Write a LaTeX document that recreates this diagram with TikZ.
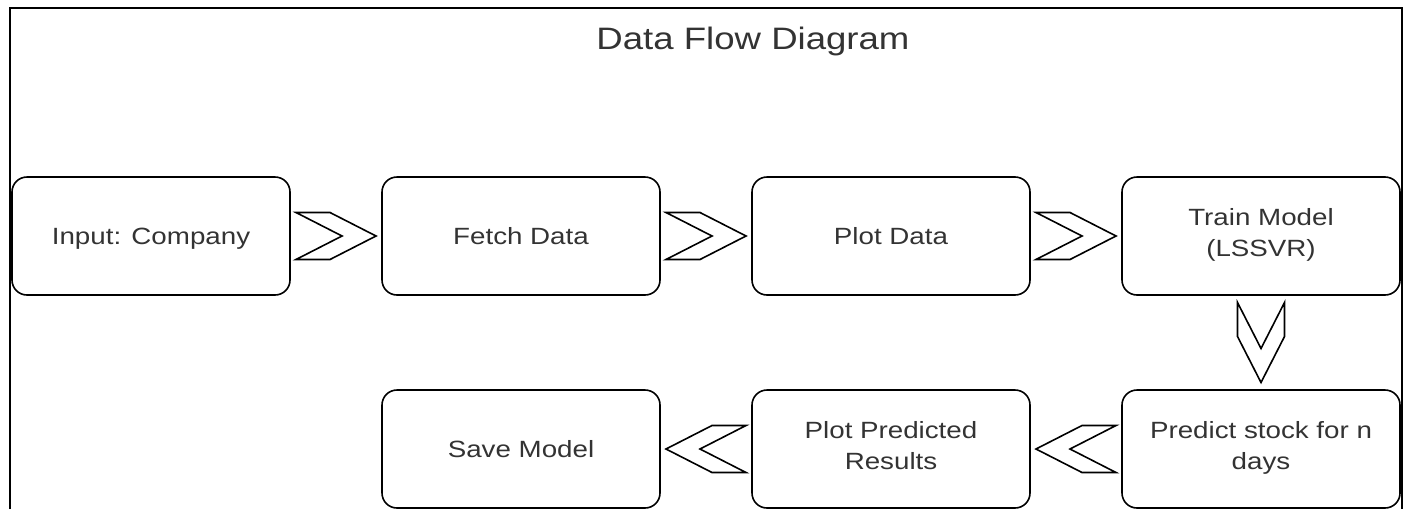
\documentclass[tikz,border=0pt]{standalone}
\usepackage{fontspec}
\setmainfont[FakeStretch=1.18]{Liberation Sans}
\usetikzlibrary{calc}
\newcommand\boxstrut{\rule[-7pt]{0pt}{31pt}}

\begin{document}
\begin{tikzpicture}[
        x=1pt, y=-1pt,        % Pixel-like units, y running downwards
        node distance=370pt,  % Distance between the nodes
        box/.style={draw, line width=1.6pt, rounded corners=15pt, minimum height=118pt, minimum width=278pt, align=center, text=black!80, font=\fontsize{23.5}{31}\selectfont, execute at begin node=\boxstrut, execute at end node=\boxstrut},
        chevron/.pic={\draw[line width=1.6pt, line join=miter] (-40,-23.5) -- (-6,-23.5) -- (40,0) -- (-6,23.5) -- (-40,23.5) -- (6,0) -- cycle;}
    ]
    \useasboundingbox (0,0) rectangle (1407,509);
    % Frame and title
    \draw[line width=2.6pt] (10,509) -- (10,8) -- (1402,8) -- (1402,509);
    \node[text=black!80, font=\fontsize{31}{36}\selectfont, anchor=base] (title) at (753,49) {Data Flow Diagram};

    % Define the nodes with text inside boxes
    \node[box] (q0) at (151,236) {Input: Company};
    \node[box] (q1) [right of=q0] {Fetch Data};
    \node[box] (q2) [right of=q1] {Plot Data};
    \node[box] (q3) [right of=q2] {Train Model\\(LSSVR)};
    \node[box] (q4) [node distance=213pt, below of=q3] {Predict stock for n\\days};
    \node[box] (q5) [left of=q4] {Plot Predicted\\Results};
    \node[box] (q6) [left of=q5] {Save Model};

    % Draw arrows between the boxes
    \pic at ($(q0.east)!0.5!(q1.west)$) {chevron};
    \pic at ($(q1.east)!0.5!(q2.west)$) {chevron};
    \pic at ($(q2.east)!0.5!(q3.west)$) {chevron};
    \pic[rotate=-90] at ($(q3.south)!0.5!(q4.north)$) {chevron};
    \pic[rotate=180] at ($(q4.west)!0.5!(q5.east)$) {chevron};
    \pic[rotate=180] at ($(q5.west)!0.5!(q6.east)$) {chevron};

    \end{tikzpicture}
\end{document}
